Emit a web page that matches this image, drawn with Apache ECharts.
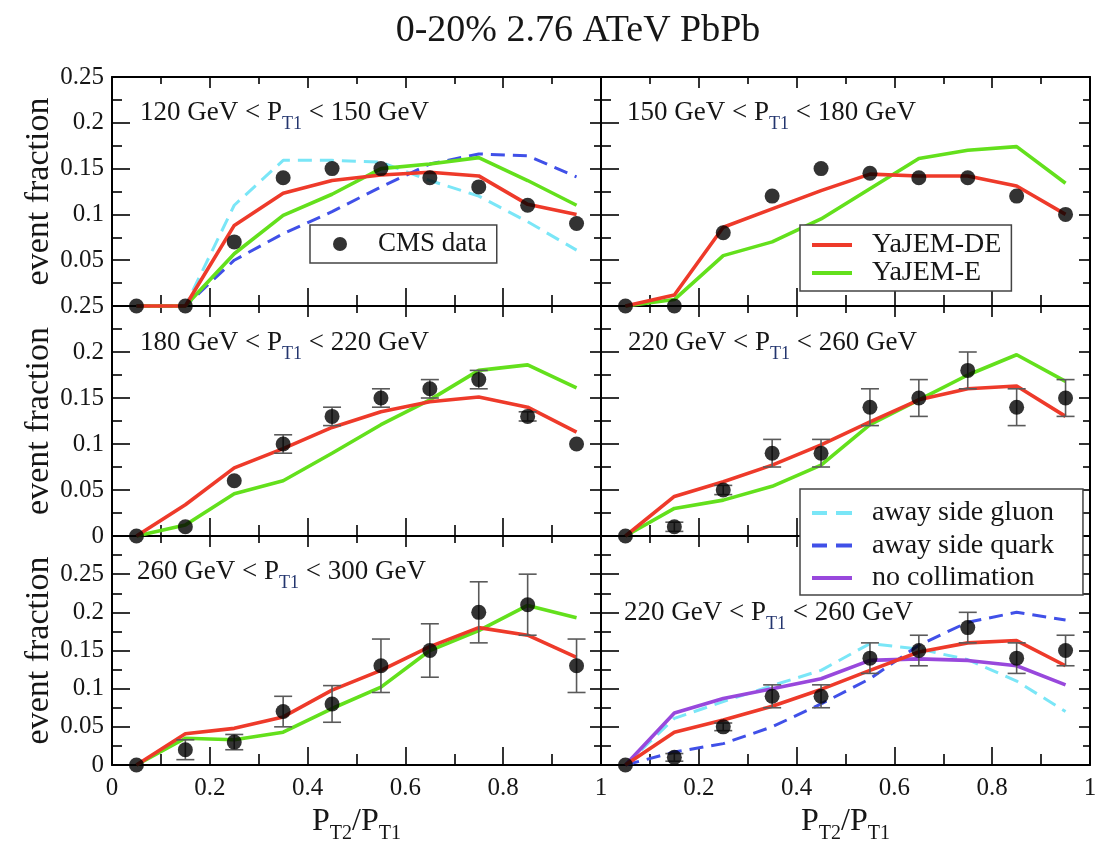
<!DOCTYPE html>
<html>
<head>
<meta charset="utf-8">
<script src="https://cdn.jsdelivr.net/npm/echarts@6/dist/echarts.min.js"></script>
<style>
  html, body { margin: 0; padding: 0; background: #fff; }
  #chart { width: 1102px; height: 847px; }
</style>
</head>
<body>
<div id="chart"></div>
<script>
// Dijet momentum balance P_T2/P_T1 in 0-20% central PbPb at 2.76 ATeV
const xBins = [0.05, 0.15, 0.25, 0.35, 0.45, 0.55, 0.65, 0.75, 0.85, 0.95];

// 120 GeV < P_T1 < 150 GeV
const cms120   = [0, 0, 0.07, 0.14, 0.15, 0.15, 0.14, 0.13, 0.11, 0.09];
const de120    = [0, 0, 0.088, 0.123, 0.137, 0.143, 0.146, 0.142, 0.111, 0.100];
const e120     = [0, 0, 0.057, 0.099, 0.122, 0.150, 0.155, 0.162, 0.137, 0.110];
const gluon120 = [0, 0, 0.110, 0.159, 0.159, 0.157, 0.137, 0.120, 0.092, 0.061];
const quark120 = [0, 0, 0.050, 0.079, 0.103, 0.130, 0.155, 0.166, 0.164, 0.141];

// 150 GeV < P_T1 < 180 GeV
const cms150 = [0, 0, 0.08, 0.12, 0.15, 0.145, 0.14, 0.14, 0.12, 0.10];
const de150  = [0, 0.012, 0.086, 0.106, 0.126, 0.144, 0.142, 0.142, 0.131, 0.100];
const e150   = [0, 0.007, 0.055, 0.070, 0.095, 0.128, 0.161, 0.170, 0.174, 0.134];

// 180 GeV < P_T1 < 220 GeV
const cms180 = [0, 0.01, 0.06, 0.10, 0.13, 0.15, 0.16, 0.17, 0.13, 0.10];
const err180 = [0, 0, 0, 0.01, 0.01, 0.01, 0.01, 0.01, 0.005, 0];
const de180  = [0, 0.034, 0.074, 0.095, 0.118, 0.135, 0.146, 0.151, 0.140, 0.113];
const e180   = [0, 0.012, 0.046, 0.060, 0.090, 0.121, 0.148, 0.180, 0.186, 0.161];

// 220 GeV < P_T1 < 260 GeV
const cms220     = [0, 0.01, 0.05, 0.09, 0.09, 0.14, 0.15, 0.18, 0.14, 0.15];
const err220     = [0, 0.005, 0.005, 0.015, 0.015, 0.02, 0.02, 0.02, 0.02, 0.02];
const de220      = [0, 0.043, 0.059, 0.077, 0.099, 0.124, 0.148, 0.160, 0.163, 0.130];
const e220       = [0, 0.030, 0.039, 0.054, 0.077, 0.121, 0.148, 0.175, 0.197, 0.168];
const gluon220   = [0, 0.061, 0.083, 0.104, 0.124, 0.159, 0.152, 0.138, 0.110, 0.070];
const quark220   = [0, 0.017, 0.028, 0.050, 0.080, 0.113, 0.157, 0.187, 0.200, 0.190];
const noColl220  = [0, 0.068, 0.087, 0.100, 0.113, 0.137, 0.139, 0.137, 0.130, 0.105];

// 260 GeV < P_T1 < 300 GeV
const cms260 = [0, 0.02, 0.03, 0.07, 0.08, 0.13, 0.15, 0.20, 0.21, 0.13];
const err260 = [0, 0.013, 0.01, 0.02, 0.024, 0.035, 0.035, 0.04, 0.04, 0.035];
const de260  = [0, 0.041, 0.048, 0.063, 0.098, 0.124, 0.155, 0.180, 0.170, 0.141];
const e260   = [0, 0.035, 0.033, 0.043, 0.074, 0.102, 0.150, 0.176, 0.209, 0.193];

const FONT = '"Liberation Serif", "Times New Roman", serif';
const INK = '#161616';
const COLORS = {
  'YaJEM-DE': '#ee3a2a',
  'YaJEM-E': '#63e01c',
  'away side gluon': '#7ae6f7',
  'away side quark': '#4050e8',
  'no collimation': '#9848dc'
};
const DASHED = { 'away side gluon': true, 'away side quark': true };

// legend swatches: a solid bar or two dashes
const SOLID_ICON = 'path://M0,0h40v4h-40z';
const DASH_ICON = 'path://M0,0h15v4h-15z M24,0h16v4h-16z';

const panels = [
  { lo: '120', hi: '150', ymax: 0.25, cms: cms120, err: null,
    lines: [['away side gluon', gluon120], ['away side quark', quark120], ['YaJEM-E', e120], ['YaJEM-DE', de120]],
    label: [140, 113] },
  { lo: '150', hi: '180', ymax: 0.25, cms: cms150, err: null,
    lines: [['YaJEM-E', e150], ['YaJEM-DE', de150]],
    label: [627, 113] },
  { lo: '180', hi: '220', ymax: 0.25, cms: cms180, err: err180,
    lines: [['YaJEM-E', e180], ['YaJEM-DE', de180]],
    label: [140, 343] },
  { lo: '220', hi: '260', ymax: 0.25, cms: cms220, err: err220,
    lines: [['YaJEM-E', e220], ['YaJEM-DE', de220]],
    label: [628, 343] },
  { lo: '260', hi: '300', ymax: 0.3, cms: cms260, err: err260,
    lines: [['YaJEM-E', e260], ['YaJEM-DE', de260]],
    label: [137, 572] },
  { lo: '220', hi: '260', ymax: 0.3, cms: cms220, err: err220,
    lines: [['away side gluon', gluon220], ['away side quark', quark220], ['no collimation', noColl220], ['YaJEM-DE', de220]],
    label: [624, 613] }
];

// panel frames: two columns, three rows
const colLeft = [112, 601];
const colWidth = 489;
const rowTop = [77, 306, 536];
const rowHeight = [229, 230, 229];

const grids = [], xAxes = [], yAxes = [], series = [], graphics = [];

const tickStyle = { color: '#000', width: 1.6 };
const axisLine = { show: true, onZero: false, lineStyle: { color: '#000', width: 2 } };

panels.forEach((p, i) => {
  const col = i % 2, row = Math.floor(i / 2);
  grids.push({ left: colLeft[col], top: rowTop[row], width: colWidth, height: rowHeight[row], containLabel: false });
  const bottomRow = row === 2;
  // bottom x axis
  xAxes.push({
    type: 'value', gridIndex: i, position: 'bottom', min: 0, max: 1, interval: 0.2,
    axisLine, splitLine: { show: false },
    axisTick: { show: true, inside: true, length: 18, lineStyle: tickStyle },
    minorTick: { show: true, splitNumber: 2, length: 11, lineStyle: tickStyle },
    axisLabel: {
      show: bottomRow, margin: 11, fontFamily: FONT, fontSize: 25, color: INK,
      formatter: v => (col === 1 && v === 0) ? '' : String(v)
    },
    name: bottomRow ? '{n|P}{s|T2}{n|/P}{s|T1}' : '',
    nameLocation: 'middle', nameGap: 35,
    nameTextStyle: {
      rich: {
        n: { fontFamily: FONT, fontSize: 32, color: INK },
        s: { fontFamily: FONT, fontSize: 20, color: INK, padding: [24, 0, 0, 0] }
      }
    }
  });
  // top x axis (ticks only)
  xAxes.push({
    type: 'value', gridIndex: i, position: 'top', min: 0, max: 1, interval: 0.2,
    axisLine, splitLine: { show: false },
    axisTick: { show: true, inside: true, length: 11, lineStyle: tickStyle },
    minorTick: { show: true, splitNumber: 2, length: 7, lineStyle: tickStyle },
    axisLabel: { show: false }
  });
  // left y axis
  yAxes.push({
    type: 'value', gridIndex: i, position: 'left', min: 0, max: p.ymax, interval: 0.05,
    axisLine, splitLine: { show: false },
    axisTick: { show: true, inside: true, length: 18, lineStyle: tickStyle },
    minorTick: { show: true, splitNumber: 2, length: 10, lineStyle: tickStyle },
    axisLabel: {
      show: col === 0, margin: 8, fontFamily: FONT, fontSize: 25, color: INK,
      formatter: v => {
        if (row === 0 && v === 0) return '';
        if (Math.abs(v - p.ymax) < 1e-9 && p.ymax > 0.25) return '';
        return String(+v.toFixed(3));
      }
    },
    name: col === 0 ? 'event fraction' : '',
    nameLocation: 'middle', nameRotate: 90, nameGap: 51,
    nameTextStyle: { fontFamily: FONT, fontSize: 34, color: INK }
  });
  // right y axis (ticks only)
  yAxes.push({
    type: 'value', gridIndex: i, position: 'right', min: 0, max: p.ymax, interval: 0.05,
    axisLine, splitLine: { show: false },
    axisTick: { show: true, inside: true, length: 11, lineStyle: tickStyle },
    minorTick: { show: true, splitNumber: 2, length: 7, lineStyle: tickStyle },
    axisLabel: { show: false }
  });

  const xi = 2 * i, yi = 2 * i;

  p.lines.forEach(([name, vals]) => {
    series.push({
      type: 'line', name, xAxisIndex: xi, yAxisIndex: yi,
      data: xBins.map((x, k) => [x, vals[k]]),
      showSymbol: false, symbol: 'none', clip: false, z: 3,
      color: COLORS[name],
      lineStyle: { color: COLORS[name], width: DASHED[name] ? 3 : 3.6, type: DASHED[name] ? [14, 8] : 'solid' },
      emphasis: { disabled: true }
    });
  });

  if (p.err) {
    const bars = [];
    xBins.forEach((x, k) => {
      if (p.err[k] > 0) bars.push([x, p.cms[k] - p.err[k], p.cms[k] + p.err[k]]);
    });
    series.push({
      type: 'custom', name: 'CMS error', xAxisIndex: xi, yAxisIndex: yi, z: 4,
      data: bars, clip: false,
      renderItem: (params, api) => {
        const a = api.coord([api.value(0), api.value(1)]);
        const b = api.coord([api.value(0), api.value(2)]);
        const w = 9;
        const st = { stroke: '#5a5a5a', lineWidth: 1.6 };
        return {
          type: 'group',
          children: [
            { type: 'line', shape: { x1: a[0], y1: a[1], x2: b[0], y2: b[1] }, style: st },
            { type: 'line', shape: { x1: a[0] - w, y1: a[1], x2: a[0] + w, y2: a[1] }, style: st },
            { type: 'line', shape: { x1: b[0] - w, y1: b[1], x2: b[0] + w, y2: b[1] }, style: st }
          ]
        };
      }
    });
  }

  series.push({
    type: 'scatter', name: 'CMS data', xAxisIndex: xi, yAxisIndex: yi,
    data: xBins.map((x, k) => [x, p.cms[k]]),
    symbol: 'circle', symbolSize: 15, clip: false, z: 5,
    itemStyle: { color: '#000' }, color: '#000',
    emphasis: { disabled: true }
  });

  graphics.push({
    type: 'text', x: p.label[0], y: p.label[1], z: 10,
    style: {
      text: '{n|' + p.lo + ' GeV < P}{s|T1}{n| < ' + p.hi + ' GeV}',
      verticalAlign: 'middle',
      rich: {
        n: { fontFamily: FONT, fontSize: 27, fill: INK },
        s: { fontFamily: FONT, fontSize: 18, fill: '#23356e', padding: [22, 0, 0, 0] }
      }
    }
  });
});

graphics.push({
  type: 'text', x: 578, y: 31, z: 10,
  style: {
    text: '0-20% 2.76 ATeV PbPb', align: 'center', verticalAlign: 'middle',
    fontFamily: FONT, fontSize: 38, fill: INK
  }
});

const legendText = (size, lh, pad) => ({ fontFamily: FONT, fontSize: size, color: INK, lineHeight: lh, padding: pad });
const lineEntry = name => ({ name, icon: DASHED[name] ? DASH_ICON : SOLID_ICON });

const option = {
  backgroundColor: '#fff',
  animation: false,
  grid: grids,
  xAxis: xAxes,
  yAxis: yAxes,
  legend: [
    {
      data: ['CMS data'], orient: 'vertical', left: 310, top: 225,
      padding: [5, 10, 5, 23], itemWidth: 14, itemHeight: 14,
      borderColor: '#444', borderWidth: 1.5, backgroundColor: '#fff',
      selectedMode: false, textStyle: legendText(27, 28, [0, 0, 0, 26])
    },
    {
      data: ['YaJEM-DE', 'YaJEM-E'].map(lineEntry), orient: 'vertical', left: 800, top: 225,
      padding: [6, 10, 4, 12], itemWidth: 40, itemHeight: 4, itemGap: 0,
      borderColor: '#444', borderWidth: 1.5, backgroundColor: '#fff',
      lineStyle: { width: 0 }, itemStyle: { borderWidth: 0 },
      selectedMode: false, textStyle: legendText(28, 27.4, [0, 0, 0, 15])
    },
    {
      data: ['away side gluon', 'away side quark', 'no collimation'].map(lineEntry),
      orient: 'vertical', left: 800, top: 489,
      padding: [10, 29, 3, 12], itemWidth: 40, itemHeight: 4, itemGap: 4.5,
      borderColor: '#444', borderWidth: 1.5, backgroundColor: '#fff',
      lineStyle: { width: 0 }, itemStyle: { borderWidth: 0 },
      selectedMode: false, textStyle: legendText(28, 28, [0, 0, 0, 15])
    }
  ],
  graphic: graphics,
  series
};

const chart = echarts.init(document.getElementById('chart'), null, { renderer: 'canvas' });
chart.setOption(option);
</script>
</body>
</html>
